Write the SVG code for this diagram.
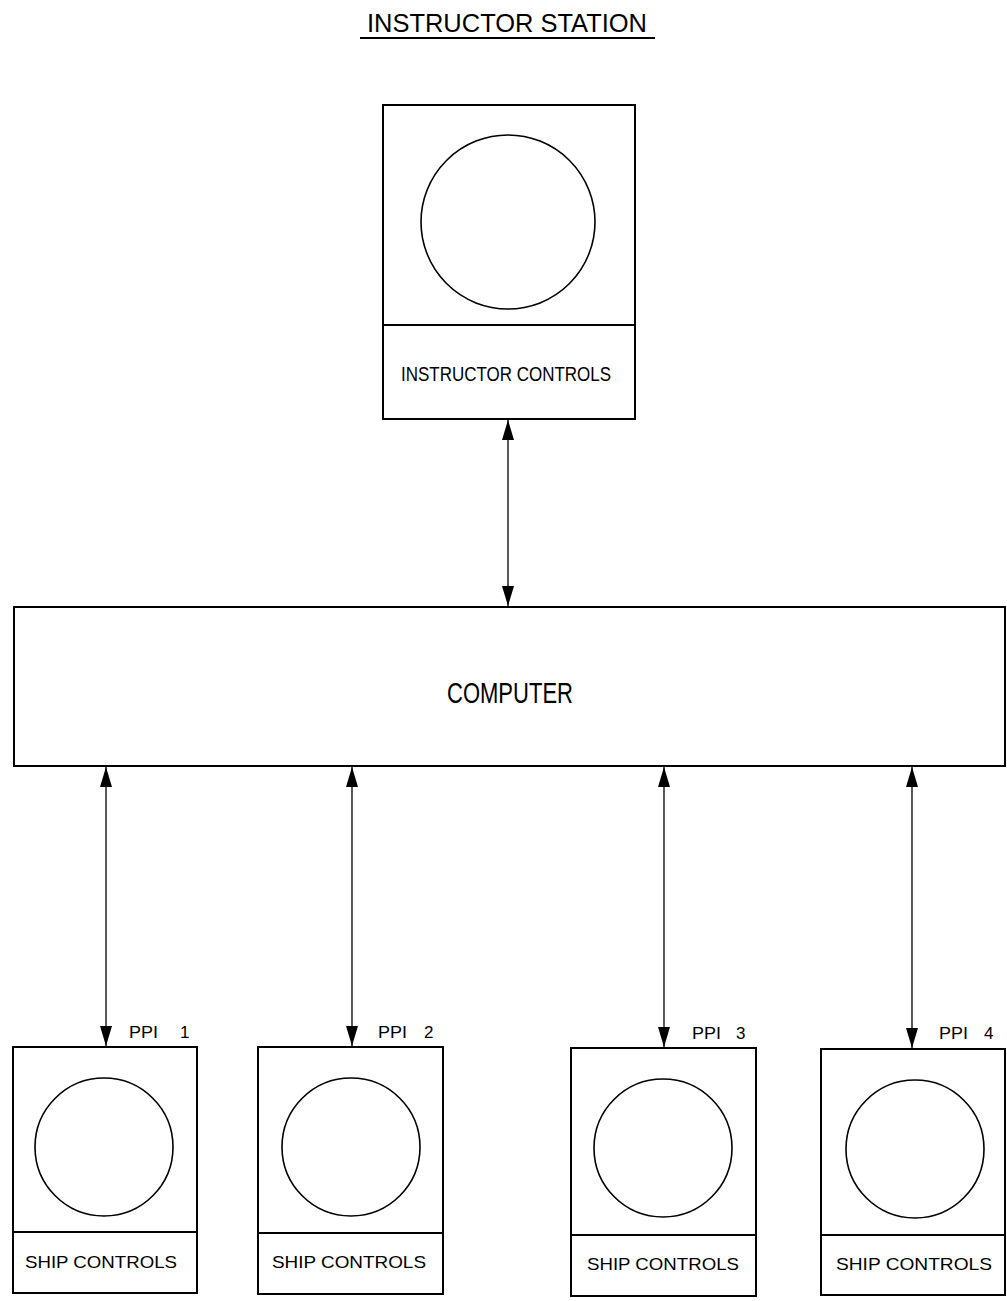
<svg xmlns="http://www.w3.org/2000/svg" width="1007" height="1301" viewBox="0 0 1007 1301">
<style>
.box{fill:none;stroke:#000;stroke-width:2}
.scr{fill:none;stroke:#000;stroke-width:1.6}
.con{fill:none;stroke:#000;stroke-width:1.3}
text{font-family:"Liberation Sans",Arial,sans-serif;fill:#000}
.lbl{font-size:17px}
.ppi{font-size:17px}
</style>
<defs>
<marker id="ah" markerUnits="userSpaceOnUse" markerWidth="22" markerHeight="14" refX="20" refY="6.5" orient="auto-start-reverse" viewBox="0 0 22 13">
<path d="M0,0.5 L20,6.5 L0,12.5 z" fill="#000"/>
</marker>
</defs>
<rect width="1007" height="1301" fill="#fff"/>
<g id="title">
<text x="367" y="32" font-size="25" textLength="280" lengthAdjust="spacingAndGlyphs">INSTRUCTOR  STATION</text>
<line x1="360" y1="38" x2="655" y2="38" stroke="#000" stroke-width="1.8"/>
</g>
<g id="instructor">
<rect class="box" x="383" y="105" width="252" height="314"/>
<line class="box" x1="383" y1="325" x2="635" y2="325"/>
<circle class="scr" cx="508" cy="222" r="87"/>
<text x="401" y="381" font-size="20" textLength="210" lengthAdjust="spacingAndGlyphs">INSTRUCTOR CONTROLS</text>
</g>
<g id="computer">
<rect class="box" x="14" y="607" width="991" height="159"/>
<text x="447" y="703" font-size="29" textLength="126" lengthAdjust="spacingAndGlyphs">COMPUTER</text>
</g>
<g id="ppi1">
<rect class="box" x="13" y="1047" width="184" height="246"/>
<line class="box" x1="13" y1="1232" x2="197" y2="1232"/>
<circle class="scr" cx="104" cy="1147" r="69"/>
<text class="lbl" x="25" y="1268" textLength="152" lengthAdjust="spacingAndGlyphs">SHIP CONTROLS</text>
<text class="ppi" y="1038"><tspan x="129" textLength="29" lengthAdjust="spacingAndGlyphs">PPI</tspan><tspan x="180">1</tspan></text>
</g>
<g id="ppi2">
<rect class="box" x="258" y="1047" width="185" height="247"/>
<line class="box" x1="258" y1="1233" x2="443" y2="1233"/>
<circle class="scr" cx="351" cy="1147" r="69"/>
<text class="lbl" x="272" y="1268" textLength="154" lengthAdjust="spacingAndGlyphs">SHIP CONTROLS</text>
<text class="ppi" y="1038"><tspan x="378" textLength="29" lengthAdjust="spacingAndGlyphs">PPI</tspan><tspan x="424">2</tspan></text>
</g>
<g id="ppi3">
<rect class="box" x="571" y="1048" width="185" height="248"/>
<line class="box" x1="571" y1="1235" x2="756" y2="1235"/>
<circle class="scr" cx="663" cy="1148" r="69"/>
<text class="lbl" x="587" y="1270" textLength="152" lengthAdjust="spacingAndGlyphs">SHIP CONTROLS</text>
<text class="ppi" y="1039"><tspan x="692" textLength="29" lengthAdjust="spacingAndGlyphs">PPI</tspan><tspan x="736">3</tspan></text>
</g>
<g id="ppi4">
<rect class="box" x="821" y="1049" width="184" height="246"/>
<line class="box" x1="821" y1="1235" x2="1005" y2="1235"/>
<circle class="scr" cx="915" cy="1149" r="69"/>
<text class="lbl" x="836" y="1270" textLength="156" lengthAdjust="spacingAndGlyphs">SHIP CONTROLS</text>
<text class="ppi" y="1039"><tspan x="939" textLength="29" lengthAdjust="spacingAndGlyphs">PPI</tspan><tspan x="984">4</tspan></text>
</g>
<g id="connectors">
<line class="con" x1="508" y1="420" x2="508" y2="606" marker-start="url(#ah)" marker-end="url(#ah)"/>
<line class="con" x1="106" y1="767" x2="106" y2="1046" marker-start="url(#ah)" marker-end="url(#ah)"/>
<line class="con" x1="352" y1="767" x2="352" y2="1046" marker-start="url(#ah)" marker-end="url(#ah)"/>
<line class="con" x1="664" y1="767" x2="664" y2="1047" marker-start="url(#ah)" marker-end="url(#ah)"/>
<line class="con" x1="912" y1="767" x2="912" y2="1048" marker-start="url(#ah)" marker-end="url(#ah)"/>
</g>
</svg>
